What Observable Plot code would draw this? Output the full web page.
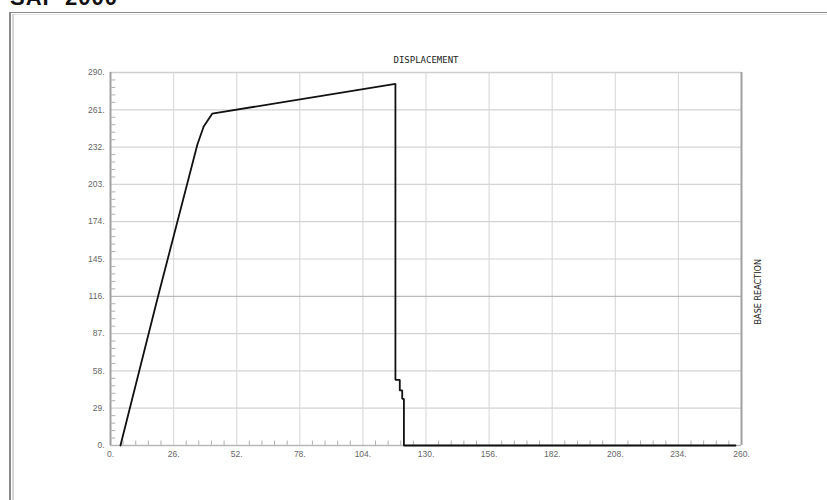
<!DOCTYPE html>
<html>
<head>
<meta charset="utf-8">
<script src="https://cdn.jsdelivr.net/npm/d3@7"></script>
<script src="https://cdn.jsdelivr.net/npm/@observablehq/plot@0.6"></script>
<style>
  html, body { margin: 0; padding: 0; background: #fff; }
  #wrap { position: relative; width: 827px; height: 500px; overflow: hidden; }
  #wrap svg { position: absolute; left: 0; top: 0; }
  .frame-left { position: absolute; left: 9px; top: 12px; width: 2px; height: 500px; background: #8a8a8a; }
  .frame-left2 { position: absolute; left: 12px; top: 14px; width: 2px; height: 500px; background: #d6d6d6; }
  .frame-top { position: absolute; left: 9px; top: 12px; width: 830px; height: 1px; background: #8a8a8a; }
  .frame-top2 { position: absolute; left: 12px; top: 14px; width: 830px; height: 1px; background: #e4e4e4; }
  .hdr { position: absolute; left: 10px; top: -15px; font: bold 22px "Liberation Sans", Arial, sans-serif; color: #111; letter-spacing: 1px; }
</style>
</head>
<body>
<div id="wrap">
  <div class="hdr">SAP 2000</div>
  <div class="frame-top"></div>
  <div class="frame-top2"></div>
  <div class="frame-left"></div>
  <div class="frame-left2"></div>
</div>
<script>
// Tick values
const xTicks = [0, 26, 52, 78, 104, 130, 156, 182, 208, 234, 260];
const yTicks = [0, 29, 58, 87, 116, 145, 174, 203, 232, 261, 290];
// Series: displacement vs base reaction
const displacement = [4.1, 19.6, 35.8, 38.4, 41.9, 117.4, 117.4, 119.2, 119.2, 120.2, 120.2, 120.9, 120.9, 257.5];
const baseReaction = [0, 116, 234, 248, 258, 281.2, 51.1, 51.1, 42.8, 42.8, 36.3, 36.3, 0, 0];
const titleText = ["DISPLACEMENT"];
const sideText = ["BASE REACTION"];

const data = displacement.map((x, i) => ({x, y: baseReaction[i]}));

// minor ticks (5 subdivisions)
const xMinor = [];
for (let i = 0; i < xTicks.length - 1; i++) for (let k = 1; k < 5; k++) xMinor.push(xTicks[i] + (xTicks[i+1]-xTicks[i]) * k / 5);
const yMinor = [];
for (let i = 0; i < yTicks.length - 1; i++) for (let k = 1; k < 5; k++) yMinor.push(yTicks[i] + (yTicks[i+1]-yTicks[i]) * k / 5);

const innerGridX = xTicks.slice(1, -1);
const gridY = yTicks.filter(d => d !== 116 && d !== 0 && d !== 290);
const darkGridY = yTicks.filter(d => d === 116);

const chart = Plot.plot({
  width: 827,
  height: 500,
  marginLeft: 110,
  marginRight: 86,
  marginTop: 72,
  marginBottom: 55,
  x: {domain: [0, 260]},
  y: {domain: [0, 290]},
  style: {fontFamily: "'Liberation Sans', Arial, sans-serif", fontSize: "8.5px", color: "#666", background: "transparent"},
  marks: [
    Plot.ruleX(innerGridX, {stroke: "#dcdcdc", strokeWidth: 1.2}),
    Plot.ruleY(gridY, {stroke: "#d4d4d4", strokeWidth: 1.2}),
    Plot.ruleY(darkGridY, {stroke: "#a8a8a8", strokeWidth: 1}),
    Plot.ruleY([290], {stroke: "#cfcfcf", strokeWidth: 1.5}),
    Plot.ruleX([260], {stroke: "#a0a0a0", strokeWidth: 2}),
    Plot.ruleY([0], {stroke: "#b8b8b8", strokeWidth: 1.5}),
    Plot.ruleX([0], {stroke: "#a0a0a0", strokeWidth: 2}),
    // inward minor ticks
    Plot.ruleX(xMinor, {y1: 0, y2: 3.5, stroke: "#b0b0b0"}),
    Plot.ruleY(yMinor, {x1: 0, x2: 2.2, stroke: "#b0b0b0"}),
    Plot.axisX(xTicks, {tickSize: 0, tickPadding: 5, tickFormat: d => d + ".", label: null, fill: "#666"}),
    Plot.axisY(yTicks, {tickSize: 0, tickPadding: 6, tickFormat: d => d + ".", label: null, fill: "#666"}),
    Plot.line(data, {x: "x", y: "y", stroke: "#111", strokeWidth: 1.8, strokeLinejoin: "miter", curve: "linear"}),
    Plot.text(titleText, {frameAnchor: "top", dy: -16, fontSize: 9, fill: "#222", fontFamily: "'DejaVu Sans Mono', monospace", ariaLabel: "chart-title"}),
    Plot.text(sideText, {frameAnchor: "right", dx: 17, rotate: -90, fontSize: 9, fill: "#222", fontFamily: "'DejaVu Sans Condensed', 'DejaVu Sans', sans-serif", ariaLabel: "side-label"})
  ]
});
document.getElementById("wrap").appendChild(chart);
const t1 = chart.querySelector('g[aria-label="chart-title"] text');
if (t1) { t1.setAttribute("textLength", "128"); t1.setAttribute("lengthAdjust", "spacingAndGlyphs"); }
const t2 = chart.querySelector('g[aria-label="side-label"] text');
if (t2) { t2.setAttribute("textLength", "66"); t2.setAttribute("lengthAdjust", "spacingAndGlyphs"); }
</script>
</body>
</html>
